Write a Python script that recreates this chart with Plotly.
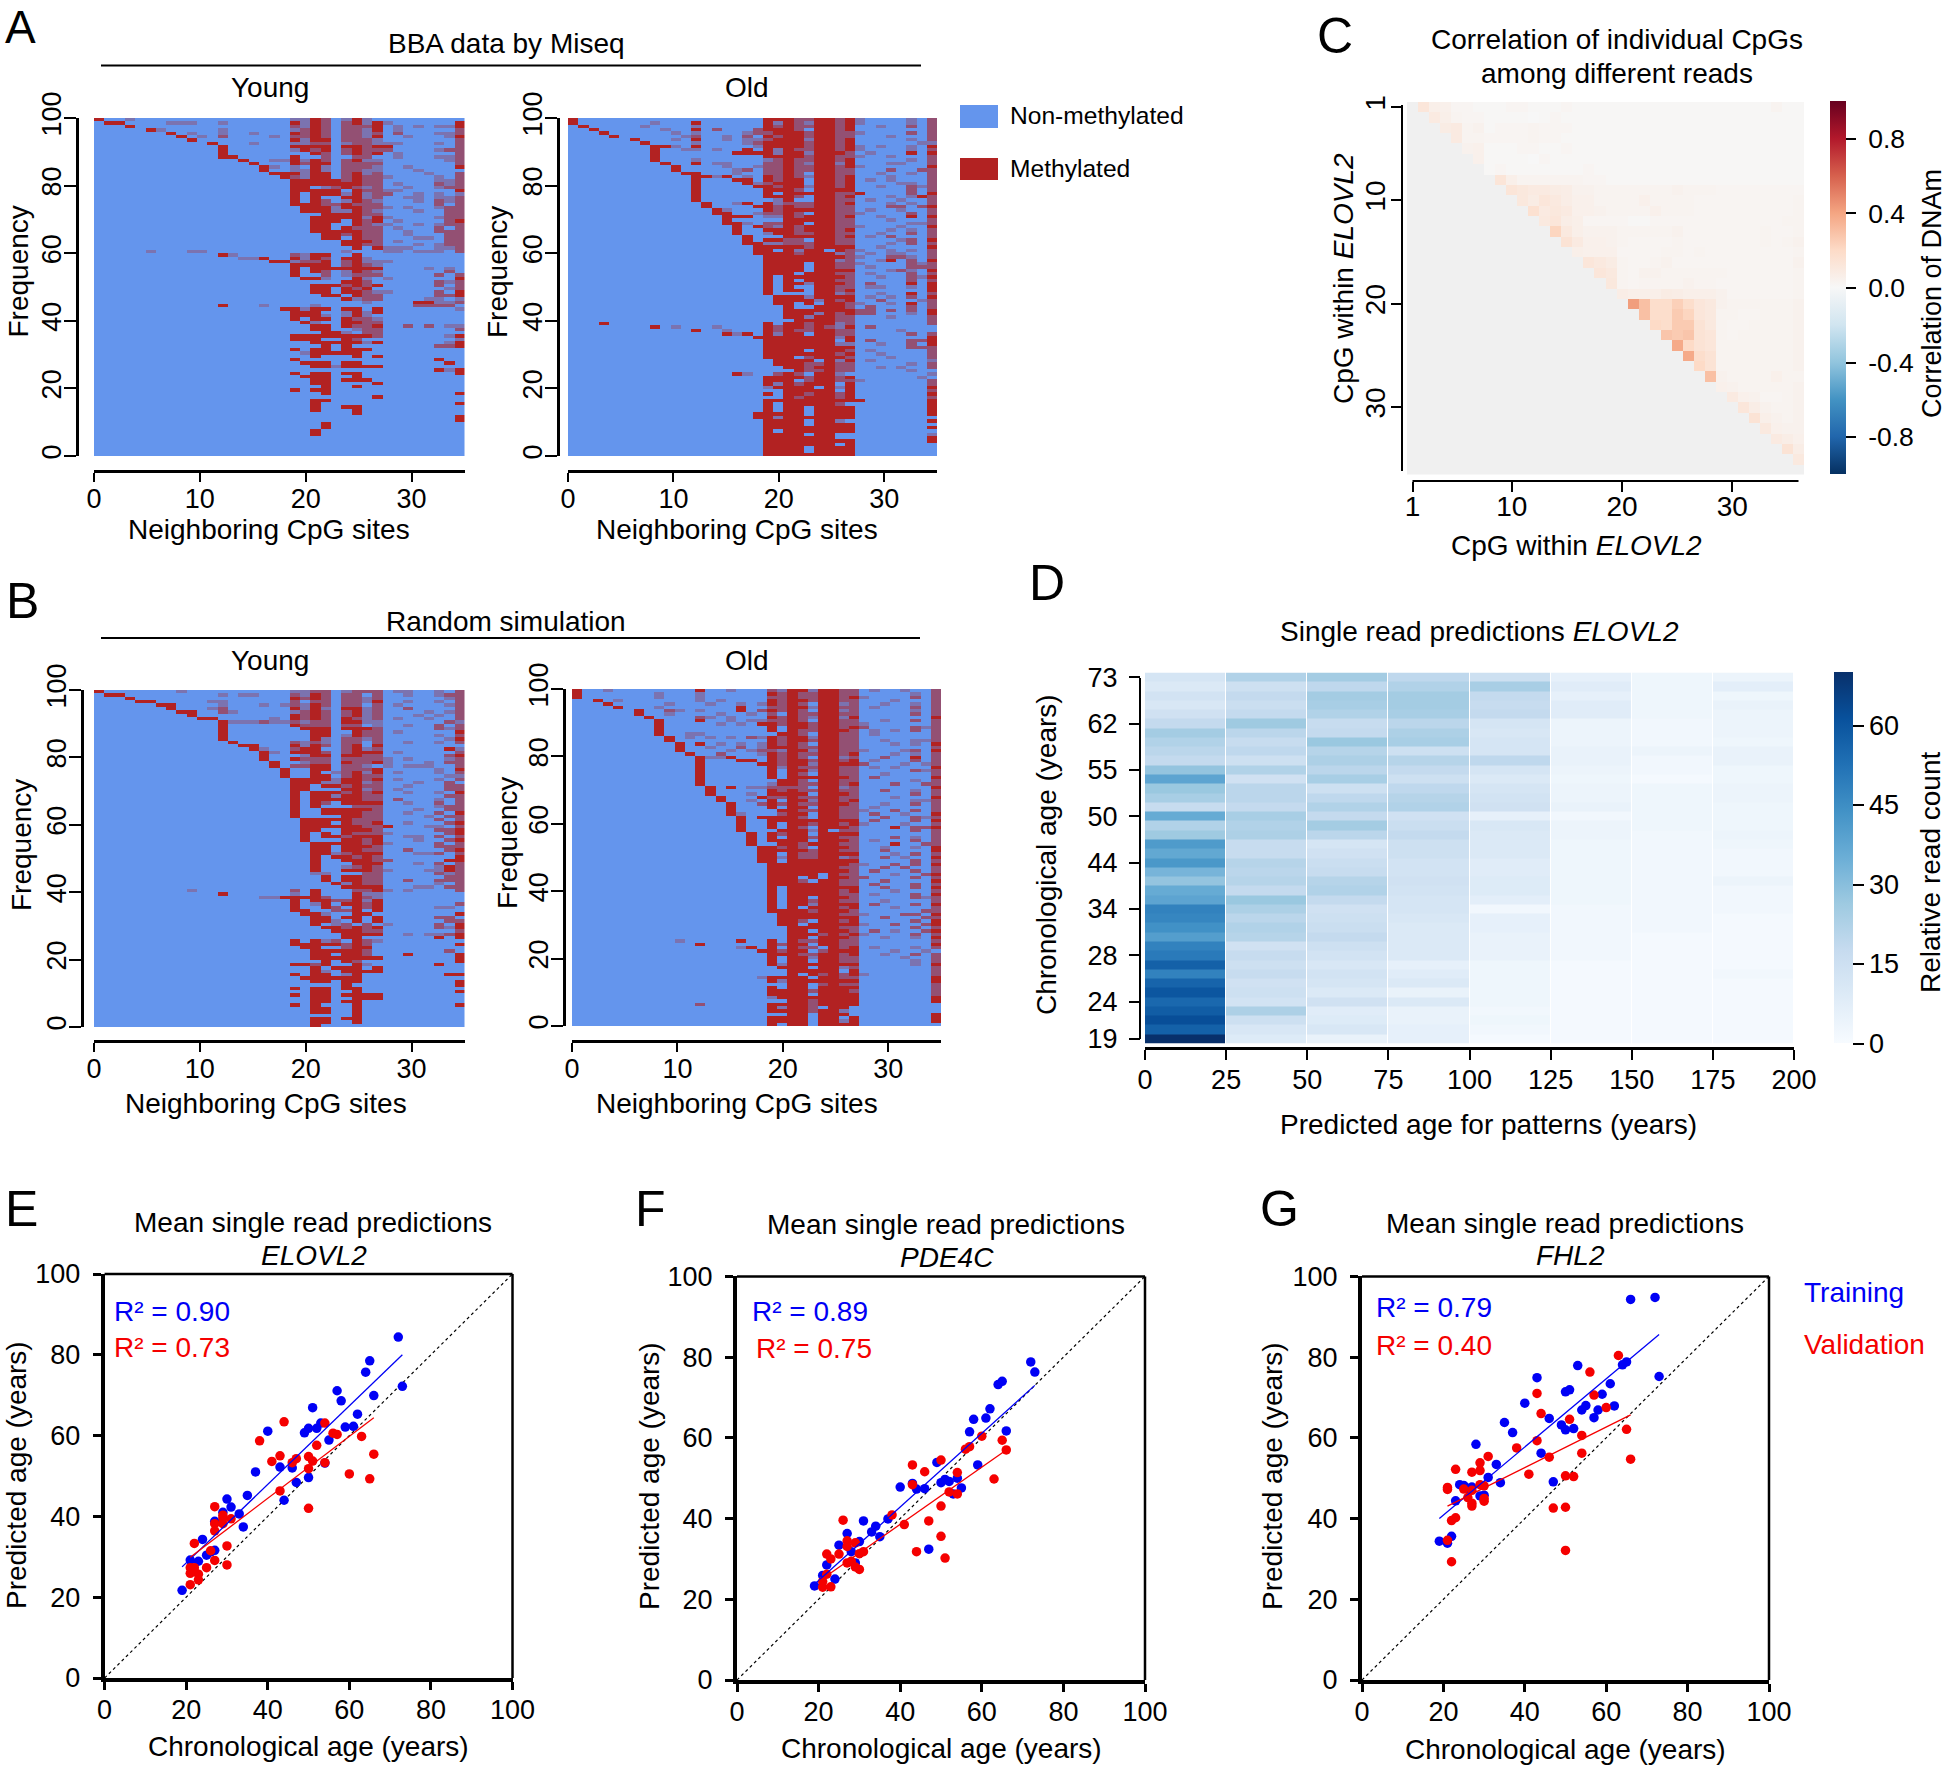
import plotly.graph_objects as go

W, H = 1946, 1766
FONT = "Liberation Sans"
BLUE_M, RED_M = "#6495ED", "#B22222"

# ---------- Panels A/B: methylation patterns, top row first. "19:22x" = columns 19..22, x full, + mixed, - faint
A_YOUNG = [
"0x 3- 19- 20- 21x 22+ 24- 25x 26-","1x 2x 7- 8- 9- 12- 19x 20- 21x 22+ 24+ 25x 26- 27x 28- 35x","3x 19+ 20- 21x 22+ 24+ 25+ 26+ 27x 29- 31- 33- 34- 35x",
"5x 6- 12- 19- 20+ 21x 22+ 24+ 25+ 26- 27x 29- 35+","7x 9- 12- 15- 19x 20+ 21x 22+ 24+ 25+ 26- 27+ 29+ 33- 34- 35+","8x 10- 12+ 17- 19+ 20+ 21x 22+ 24+ 25+ 26- 27x 30- 34- 35x",
"9x 19x 20- 21x 22x 24+ 25+ 26+ 27- 35+","11x 15- 19- 20- 21+ 22+ 24- 25+ 26+ 27- 28- 29- 33- 35+","12x 19x 20x 21x 22x 24x 25x 26+ 27x 28x 35+",
"12x 19- 20x 21+ 22x 24+ 25x 26+ 27+ 28+ 33- 34+ 35+","12x 21x 22+ 24+ 25x 26+ 27x 29- 35+","12x 13x 19x 22+ 25+ 26+ 29- 33- 34- 35+",
"14x 17- 18- 19x 20- 21x 22+ 24+ 25x 26- 27- 34- 35+","15x 19x 20+ 21x 22x 24+ 25+ 26+ 27+ 35+","16x 17- 19- 21x 22- 24+ 25+ 26+ 27- 30- 35x",
"16x 19- 20- 21x 22- 24+ 25+ 26- 27- 31-","17x 18x 19x 20- 21x 22x 24+ 25x 26- 27+ 32- 35+","18x 19+ 20- 21x 22x 24+ 25x 26+ 27+ 28- 33- 35+",
"19x 20x 21x 22x 23x 24+ 25x 26+ 27+ 33- 34- 35+","19x 20x 21x 22x 23x 24x 25x 26+ 27+ 29- 33+ 34- 35+","19x 20x 22- 23+ 24x 25+ 26- 27+ 30- 33- 34+ 35+",
"19x 20x 21x 22x 23x 25x 26+ 27+ 28- 29- 35x","19x 21x 22x 23x 24- 25x 26- 27+ 28+ 31- 33- 35-","19x 21x 24x 25x 26- 27+ 30- 31- 33- 34- 35+",
"19x 21x 22+ 24- 25x 26+ 27- 31- 33+ 34- 35+","19x 20x 21x 22+ 23+ 24x 25+ 26+ 27+ 33+ 35+","20x 21x 22x 23- 24x 25x 26+ 27+ 28- 30- 33- 34+ 35+",
"20x 21x 22x 23- 24- 25x 26+ 27- 31- 34+ 35+","22x 23x 24x 25x 26+ 27+ 34+ 35+","21x 22x 23x 24x 25x 26- 27x 28- 33- 34+ 35+",
"21x 22x 23x 25x 26+ 27x 29- 34+ 35x","21x 22x 25x 26+ 27- 28- 31- 33- 34+ 35+","21x 22x 24x 25+ 26+ 27+ 29- 33+ 35+",
"21x 22x 23x 24x 25x 26+ 27+ 30- 33+ 34+ 35+","22x 23x 24+ 25x 26+ 27+ 30- 34+ 35+","22x 23x 25x 26+ 27+ 31- 32- 34+ 35+",
"24x 25x 26x 27+ 29- 34+ 35+","24x 25x 26+ 27+ 31- 33- 34+ 35+","25x 27x 28- 29- 30- 33- 34- 35+",
"5- 9- 10- 24- 28- 29- 31- 32- 33- 35+","12x 13- 19+ 20- 21x 22x 25x","14- 15- 16x 19x 20- 21x 22+ 24x 25x 26-",
"17x 18x 19- 20+ 21+ 22x 24+ 25x 26- 27- 28-","19x 20x 21x 22x 24+ 25x 26+ 27-","19x 21x 22x 23x 24x 25x 26x 27x 32- 34-",
"19x 21x 22+ 24- 25x 26+ 27- 34+","19x 22+ 24- 25+ 26+ 27+ 33+ 35+","20x 21x 22- 25x 26- 28- 35x",
"24x 25x 26+ 33+ 34- 35+","21x 22x 23x 24+ 25x 26+ 27x 33+ 35+","21x 22x 24x 25+ 26x 34- 35+",
"21x 22x 24x 25x 26+ 27- 28- 33+ 35x","22x 23x 25x 26+ 27+ 33+ 34+ 35x","24x 25- 26+ 27+ 32- 33- 35-",
"26- 31x 32x 33- 34- 35+","12x 16- 21- 31+ 32+ 33+ 34+","18x 19x 20- 21x 22x 24x 25x 27x 35-",
"19x 20x 21x 24- 25x 26- 27x","19x 20x 21x 22- 24- 25x 26-","19x 21x 22x 24x 25+ 26+ 27-",
"20x 21- 24x 25x 26+ 27+","21x 22x 24x 25+ 26+ 27x 30+ 32+ 34- 35-","21x 22x 25- 26+ 27+ 35+",
"22x 23x 24- 26+ 27+","19x 20x 21x 22x 23x 24x 25x 26x 27+ 34- 35x","19x 20x 21x 24x 25+ 35-",
"21x 22x 23x 24x 25x 26- 27x 34- 35x","22x 24x 33+ 34+ 35x","19x 21x 22x 24x 25x 26x",
"20- 21x 22x 23x 24x 25x","21x 25x 27x","19x 33x",
"20x 21x 22x 24x 25x 34x","21x 22x 23- 24x 25x 26x 27x","33x 34- 35x",
"19x 21x 22x 24x 25x 35x","20x 21x 22x 25x","21x 22x 24x 25x 26x",
"21x 22x 27x","22x 25x","19x 21x 22x",
"22x 35x","27x","21x 22x",
"21x 35x","21x 24x 25x","21x 25x",
"25x","35x","35x",
"22x","22x","21x",
"21x","","","","","","",
]
A_OLD = [
"0x 19:21x 22+ 23+ 24:25x 26+ 27x 28- 33- 35+","0x 8- 12x 19x 20- 21x 22+ 23- 24:25x 26+ 27x 28- 33- 35+","1x 7- 12- 19x 20+ 21x 22+ 23+ 24:25x 26+ 27x 30- 33+ 35+",
"2x 9- 12x 14+ 18+ 19:21x 22+ 24:25x 26+ 27x 35+","3x 10- 12- 17- 18+ 19+ 20x 21x 22x 23+ 24:25x 26+ 27+ 28- 33+ 35+","4x 11- 12+ 15- 17+ 19x 20+ 21x 22x 23+ 24:25x 26+ 27+ 31- 35+",
"6x 10- 12x 15- 17- 18- 19+ 20x 21x 22x 23- 24:25x 26+ 27x 33- 35+","7x 12- 17- 18+ 19:22x 23+ 24:25x 26+ 27x 34- 35-","8x 9x 10- 12x 18- 19:22x 23+ 24:25x 26+ 27x 28- 30- 33- 35x",
"8x 11- 12- 14- 17x 19x 20- 21x 22+ 23+ 24:25x 26+ 27x 28- 33- 35+","8x 16:19x 20- 21x 22x 23- 24:26x 27+ 29- 33x 35x","8x 19:22x 23+ 24:25x 26+ 27+ 28- 31- 35+",
"8x 12- 19- 20+ 21x 22+ 23+ 24:25x 26+ 27x 33- 35+","9x 12x 14- 15- 19+ 20+ 21x 22+ 23- 24:25x 26- 27x 31- 32- 35+","10x 15- 18- 19+ 20+ 21x 22+ 23+ 24:25x 26+ 27x 28- 35x",
"10x 16- 17+ 19+ 20+ 21x 22+ 23+ 24:25x 26+ 27+ 31+ 34+ 35+","11x 12x 16- 19+ 20+ 21x 22+ 24:25x 26+ 27+ 30- 33- 35+","12x 13x 14- 15x 17- 19x 20+ 21x 22+ 23- 24:25x 26+ 27x 31- 35+",
"12x 16x 17x 19x 20+ 21x 22x 24:25x 26+ 27x 29- 31- 35+","12x 17x 18- 19+ 20x 21x 22x 24:25x 26+ 27x 32- 33- 35+","12x 18x 19x 20+ 21x 22x 23- 24:25x 26+ 27x 30- 33+ 34- 35+",
"12x 19:21x 22+ 24:25x 26x 27x 33+ 35+","12x 19x 21x 22x 23x 24:25x 26+ 27+ 28x 33+ 35x","12x 19:21x 22+ 24:25x 26+ 27x 31- 33- 34x 35+",
"12x 20- 21x 24:25x 26+ 27+ 29- 32- 35+","13x 16- 17x 19x 20- 21+ 22+ 23+ 24:25x 26+ 27x 31- 33- 35+","13x 18x 19x 20+ 21x 22+ 23+ 24:25x 26+ 27+ 31+ 32+ 34+ 35x",
"14x 15- 19x 20+ 21x 22x 23x 24:25x 26+ 27+ 29- 32- 35+","14x 15x 18- 19+ 20+ 21x 22+ 24:25x 26+ 27+ 28- 33+ 35+","15x 16x 17x 19- 20- 21x 22+ 23x 24:25x 26+ 27x 30- 33x 35x",
"15x 21x 22x 23x 24:25x 26+ 27+ 31- 35+","15x 16x 17- 19+ 20+ 21x 22x 24:25x 26+ 27+ 33- 34- 35+","16x 18x 19+ 20- 21x 22+ 23x 24:25x 26+ 27+ 28- 32- 35x",
"16x 19:21x 22+ 23x 24:25x 26+ 27x 31- 33- 35+","16x 19- 20x 21x 22+ 23+ 24:25x 26+ 27+ 30- 33+ 35+","17x 21x 22x 23x 24:25x 26+ 27x 29- 31+ 35+",
"17x 19x 20x 21+ 22+ 24:25x 26+ 27+ 32- 33+ 35x","17x 18x 19- 20- 21+ 22+ 23+ 24:25x 26+ 27+ 31- 33+ 35+","18:22x 23+ 24:27x 30- 35x",
"18x 19x 21x 22- 23x 24x 26x 27+ 28- 31- 33- 35+","18:21x 22+ 23:25x 26- 27+ 29- 31- 32- 35+","19:26x 27+ 28- 31+ 32+ 33- 35+",
"19:25x 26- 27+ 30- 31x 33+ 35x","19:22x 24:25x 26+ 27+ 28- 33+ 34- 35+","19:22x 24:25x 26+ 27+ 29- 33+ 34+ 35+",
"19:22x 24:27x 31- 32+ 33- 35x","19:21x 23x 24:25x 26+ 27+ 29- 33+ 35+","19x 21x 22x 23x 24:26x 27+ 30- 33+ 34- 35x",
"19x 21x 23x 24:25x 26+ 27+ 33+ 35+","19x 21:22x 23- 24:26x 27+ 29+ 33x 35x","19x 21x 24:25x 26+ 27+ 29- 30- 33- 35x",
"19x 21x 22x 24:25x 26+ 27x 35x","19x 24:25x 26- 27+ 30- 33x 35+","20:22x 23- 24:27x 29- 31- 33+ 35x",
"20:23x 24- 25x 26+ 27x 30+ 34- 35+","20x 21x 23x 25x 26x 27+ 28- 31- 33x 35+","21x 24:26x 27+ 29+ 33+ 35+",
"21:27x 28+ 29+ 31+ 33+ 35x","21:23x 24- 25x 26+ 27x 28+ 29+ 33- 35x","21x 22x 23- 24:25x 26+ 27+ 31- 35+",
"22:25x 26+ 27+ 35+","3x 19x 21:22x 23+ 24:25x 26- 27+ 35+","8x 10- 14- 19x 20+ 21x 22x 23+ 24x 25+ 26- 27x 29+",
"12x 15- 19x 20+ 21x 22+ 23+ 24:25x 26+ 27+ 32-","15x 16- 17x 19x 20- 21x 22x 24:25x 26+ 27+ 33+ 35+","18:25x 26- 27x 35x",
"19:25x 27x 29+ 33+ 34+ 35x","19:25x 26- 27- 30- 33+ 35x","19:27x 33+ 34+ 35+",
"19:22x 24:26x 27+ 29- 35+","19:25x 26+ 27x 30- 35+","19:21x 23+ 24:26x 27+ 31- 35+",
"20:23x 25x 26- 27x 29- 35-","20:22x 23+ 24+ 25x 26+ 27+ 33- 35+","21:22x 23+ 24:25x 26+ 27+ 30- 32- 35+",
"22x 23+ 24+ 25x 26+ 27+ 33-","16x 17- 20+ 21x 22+ 24:25x 26- 35-","19:22x 23+ 24:25x 26+ 27x 34-",
"19:21x 23+ 24:25x 26+ 27+ 28- 35+","19x 20- 21x 22+ 23:25x 27x 35+","19- 20:23x 25x 26- 27x 35x",
"21:25x 27x 35+","19x 21x 22x 23+ 24:25x 26+ 27x 35x","21x 22+ 23:25x 26+ 27x 35+",
"19:28x 35x","19x 21:25x 26+ 35x","19x 21x 22x 24:27x 35x",
"19x 21x 22x 24:27x 35x","18:22x 24:27x 35x","18x 19x 20- 21:27x",
"19:22x 24:25x 26- 35x","19:22x 24:27x","19:27x 35x",
"19x 21:27x","19:22x 24:25x 35-","19:25x 35x",
"19:27x 35x","19:25x 27x","19:22x 24:27x","19:22x 24:27x","19:27x",
]
B_YOUNG = [
"0x 8- 19- 20- 21+ 22+ 24- 25+ 26+ 27+ 29- 30- 33- 35+","1x 2x 12- 14- 15- 19+ 20- 21x 22+ 24+ 25+ 27+ 30- 33- 34+ 35+","3x 19x 20+ 21x 22+ 24+ 25+ 26- 27+ 34- 35+",
"4x 5x 11- 12- 19+ 21+ 22+ 24+ 25+ 26- 27x 30- 33- 35+","6x 7x 12- 16- 18- 19+ 20- 21x 22+ 24+ 25+ 27+ 29- 34- 35+","7x 11- 12+ 19x 20- 21x 22- 24x 25x 26- 27+ 30+ 35+",
"8x 9x 12+ 13- 19- 20+ 21x 22+ 24+ 25x 26- 27+ 32- 34- 35+","9x 19x 20+ 21x 22+ 24+ 25x 26- 27+ 31- 33- 35+","10x 11x 17- 19x 20+ 21x 22+ 24x 25+ 26- 27+ 29- 32- 35+",
"12x 13- 14- 15- 16+ 17- 18- 19+ 20- 21+ 22+ 24x 25x 26- 27- 34+ 35-","12x 19x 20+ 21+ 22+ 24+ 25+ 27- 30- 33+ 35+","12x 20x 21x 22x 24x 25x 26x 27+ 33+ 34- 35+",
"12x 21x 22x 25x 26+ 27+ 29- 35x","12x 21x 22x 24- 25x 26+ 27+ 33- 35+","12x 21x 22- 24+ 25+ 26- 27+ 34- 35x",
"13x 19+ 20- 21+ 22- 24+ 25+ 27+ 30- 33- 35+","14x 15x 19x 20- 21x 22+ 24+ 25x 27x","15x 16- 19+ 20x 21x 24+ 25x 26- 27+ 34x 35-",
"16x 17- 19x 20x 21x 22+ 24+ 25x 26x 27x 29- 35+","16x 20- 21x 22x 24x 25x 26+ 27+ 34+ 35x","16x 19x 20+ 21+ 22+ 24+ 25+ 26+ 27+ 28- 30- 34- 35+",
"17x 20- 21+ 22+ 24x 25+ 26+ 27x 28- 32- 34+ 35+","17x 19+ 20+ 21x 22x 24+ 25+ 26- 28- 30- 31- 32- 35+","18x 21x 22x 24+ 25+ 26+ 27x 33- 35x",
"18x 21x 23- 24+ 25x 26- 27x 29- 33- 35+","18x 21x 22x 24+ 25x 26+ 27+ 34- 35-","19x 20x 21x 22x 23- 24x 25x 26+ 27x 29- 33- 35+",
"19x 20x 21x 22- 23- 24x 25x 26- 27+ 31- 34+","19x 20x 22x 23x 24+ 25x 26+ 27+ 30- 34+ 35+","19x 20x 24x 25x 26- 27+ 29- 34+ 35+",
"19x 21x 22x 23x 24+ 25x 26+ 27x 30- 33- 35x","19x 21x 22x 23- 24x 25x 26+ 27+ 34+ 35+","19x 21x 22x 23x 24x 25x 26+ 27+ 29+ 33- 35+",
"19x 21x 22+ 24x 25x 26x 27x 30- 33+ 35+","19x 21x 25+ 26+ 27+ 33- 34+ 35+","19x 22x 23x 24x 25x 26x 27+ 31- 34+ 35+",
"19x 22x 23x 24x 25x 26+ 27+ 30- 33+ 35x","19x 24x 25x 26+ 27+ 32- 34+ 35+","20x 21x 22x 23x 24x 25+ 26+ 27+ 33+ 35+",
"20x 21x 22x 24x 25+ 26+ 27x 30- 34+ 35x","20x 21x 22x 23x 24x 25x 26+ 27+ 28x 32- 33- 35+","20x 21x 24x 25x 26x 27+ 33+ 34+ 35x",
"20x 22x 24x 25+ 26+ 27+ 28- 34+ 35x","20x 22x 23x 24+ 25x 26x 27x 30- 31- 33+ 35+","20x 24x 25x 26+ 27x 31- 34+ 35x",
"21x 22x 23x 24x 25x 26+ 27x 28- 33+ 35+","21x 22x 24x 25x 26x 27+ 33+ 34+ 35+","21x 22x 24x 25x 26+ 27+ 30+ 34+ 35x",
"21x 22x 23- 24+ 25x 26x 27x 31- 32- 33+ 35+","21x 23x 24x 25+ 26x 27+ 35x","21x 24x 25x 26x 27+ 28+ 34x 35x",
"21x 25x 26x 27x 31- 33+ 35+","21x 24- 25+ 26x 27+ 33- 34x 35+","21x 24x 25x 26x 27+ 28- 32- 33- 34x 35+",
"21- 22- 26+ 27+ 33+ 34- 35+","22x 24x 25x 26+ 27+ 34+ 35+","22x 24x 25x 26+ 27+ 30+ 33+ 34+ 35+",
"23x 24- 25x 26+ 27+ 33- 35+","24x 25x 26x 27x 31- 32- 34+ 35+","9- 19+ 21x 25+ 26+ 27x 28- 30- 35+",
"12x 19- 21x 25x 26- 27-","16- 17- 18x 19x 20x 21x 22+ 25x 26+ 27-","19x 21x 22x 23+ 24+ 25x 26- 27x",
"19x 21- 22x 24x 25x 26+ 27x 35+","19x 22x 23+ 25x 26+ 27x 33- 34-","19x 20x 23+ 24+ 25x 27x",
"20x 21x 22- 25x 26x 35x","21x 22x 24x 25x 27x 33+ 34+","21x 22x 23- 25x 27x 34+ 35+",
"21x 23- 24+ 26+ 28- 33+ 35x","22x 23x 24+ 25x 26+ 27x 33+ 34- 35x","23x 24x 25x 26+ 27+ 35+",
"24x 25x 26x 27x 30- 32- 33- 34+ 35x","24x 25x 33x 35x","19x 21x 22- 23+ 25x 26+ 27-",
"19x 20x 21x 22x 23x 24+ 25x 26+ 35x","20x 21x 24+ 25x 26x","21x 22x 23x 24x 25x 26+ 34+",
"21x 22x 24x 25x 26+ 30x 35x","21x 22x 23x 24x 25x 26x 27x 35x","22x 24x 25+ 35x",
"19x 20x 21+ 22x 25x 26- 33x","21x 23x 24x 25x 27x","21x 22- 24x 25x 26x 27x",
"19x 21x 22x 24- 25x 34x 35x","20x 21x 22x 23x 24x 25x","21x 22x 24x 25x 35x",
"24x 35x","19x 21x 22x 24x 25x","21x 22x 25x 35x",
"19x 21x 22x 24x 25x 26x 27x","21x 22x 25x 26x 27x","21x 22x 24x 25x",
"19x 21x 25x 35x","21:22x 25x","21x 22x 25x",
"25x","21x 22x 24x 25x","21x 22x 25x","21x",
]
B_OLD = [
"0x 3- 12x 15- 19+ 20- 21x 22x 23- 24:25x 26+ 27+ 29- 32- 35+","0x 8- 12- 19x 20+ 21x 22+ 23+ 24:25x 26+ 27+ 33- 35+","0x 8- 12- 19+ 20+ 21x 22+ 23+ 24:25x 26+ 27x 28- 33+ 35+",
"2x 4- 12- 14- 19x 20+ 21x 22x 23+ 24:25x 26+ 27+ 31- 35+","3x 9- 13- 16- 18- 19x 20+ 21x 22+ 24:25x 26- 27+ 30- 33- 35+","4x 8- 16x 19+ 20+ 21x 22x 23- 24:25x 26+ 27+ 29- 33+ 35+",
"6x 9+ 10- 12- 16x 18+ 19x 20+ 21x 22+ 24:25x 26- 27+ 33- 35+","6x 9- 14- 17- 19+ 21x 22+ 23+ 24:25x 26+ 27+ 33+ 35+","7x 12+ 13- 15- 19x 20+ 21x 22+ 23- 24:25x 26- 27x 35x",
"8x 12x 15- 17- 18- 19+ 20+ 21x 22+ 24:25x 26+ 27+ 30- 33+ 35+","8x 14- 16- 18x 19x 20+ 21x 22x 23+ 24:25x 26+ 27+ 28- 35+","8x 19x 21x 22x 23+ 24:25x 26+ 27x 28+ 33+ 34- 35+",
"8x 19x 21x 22+ 23+ 24:26x 27+ 29- 31- 33+ 35+","8x 11- 12- 20x 21x 22+ 24:25x 26+ 27+ 29- 35+","9x 11- 13- 15- 17+ 18- 19x 20+ 21x 22x 23- 24:25x 26+ 27+ 35+",
"9x 19x 20+ 21x 22x 23+ 24:25x 26+ 27+ 30- 33- 34- 35+","10x 12x 14- 16- 18- 19x 20+ 21x 22+ 24:25x 26+ 27+ 31- 33- 35x","10x 13- 16+ 18- 19:21x 22+ 23+ 24:25x 26+ 27+ 35+",
"10x 15- 17- 18+ 19+ 20- 21x 22x 23- 24:25x 26+ 27+ 28- 32- 33+ 35x","11x 14+ 18- 19x 20+ 21x 22+ 23+ 24:25x 26+ 27x 31- 33- 35+","12x 13- 14- 15x 19x 20+ 21x 22+ 24:25x 26- 27+ 30+ 33x 35+",
"12x 16x 17x 19x 20+ 21x 22x 23+ 24:25x 26+ 27x 29- 33+ 35+","12x 18x 19x 20+ 21x 22x 23- 24:27x 28+ 32- 34- 35+","12x 19x 20- 21x 22+ 23+ 24:25x 26+ 27+ 29- 31- 35x",
"12x 19x 21x 22x 23- 24:25x 26+ 27+ 33+ 34- 35+","12x 19x 21x 22+ 24:25x 26+ 27+ 30- 35+","12x 19x 21:26x 27+ 29+ 35x",
"12x 20x 21x 22+ 24:25x 26+ 27+ 33- 35+","12x 19- 20x 21x 22+ 23+ 24:25x 26+ 27x 31+ 34+ 35+","13x 15x 17- 18- 19+ 20+ 21+ 22+ 24:25x 26- 27+ 35x",
"13x 19x 20+ 21x 22+ 23+ 24:25x 26+ 27+ 30+ 33- 35+","13x 17- 19:22x 24:26x 27+ 33+ 35+","14x 18x 19+ 20+ 21x 22+ 23+ 24:25x 26+ 27+ 31- 35x",
"14x 17- 19x 21x 22x 23- 24:25x 26+ 27x 33- 34- 35+","15x 18+ 19x 20+ 21x 22+ 23+ 24:26x 27+ 30- 33+ 35+","15x 19x 21x 22x 24:25x 26+ 27+ 29- 35+",
"15x 20x 21x 22+ 23+ 24:25x 26+ 27+ 28- 31+ 33+ 35+","15x 16- 20+ 21x 22x 24:25x 26+ 27+ 29+ 32- 35x","16x 18:21x 22+ 24:25x 26+ 27+ 30+ 33+ 34- 35+",
"16x 19:27x 29+ 33+ 35x","16x 19x 21x 22x 23+ 24:25x 26+ 27x 28- 32- 35+","16x 19x 21x 22+ 24:26x 27+ 31x 33+ 34+ 35x",
"16x 20x 21x 22x 23- 24x 26+ 27+ 33+ 35+","17x 19x 20+ 21x 22x 24:27x 35+","17x 19x 21x 22x 23+ 24:25x 26+ 27+ 31+ 33- 35+",
"17x 19:22x 24:26x 27+ 29- 33+ 35+","17x 20x 21x 22+ 23x 24:25x 26+ 27+ 31x 34+ 35+","18x 19x 20+ 21x 22+ 24:26x 27+ 30- 33- 35x",
"18:22x 23+ 24:25x 26+ 27+ 30+ 35x","18x 19x 21x 22+ 23+ 24:27x 31- 33+ 35+","18x 19x 20- 21x 22+ 23+ 24:25x 26- 27+ 30+ 32- 35x",
"18x 19x 21:27x 33+ 35+","19:26x 27+ 28- 31+ 33+ 35x","19:25x 26+ 27+ 30+ 32+ 35+",
"19:26x 27+ 29+ 33+ 35+","19:23x 25x 26+ 27+ 31- 34+ 35x","19:21x 23x 25x 26x 27+ 28+ 33+ 35+",
"19:21x 22+ 24:25x 26+ 27+ 30+ 35x","19:25x 26+ 27+ 29+ 33+ 35+","19x 21:27x 30+ 33+ 35x",
"19x 21:25x 26+ 27x 31- 35+","19x 21:25x 26+ 27+ 29- 33+ 35x","19x 21x 22x 24:26x 27+ 33+ 34- 35+",
"19x 21x 22x 23+ 24:25x 26+ 27+ 30- 35+","19x 21x 22x 23- 24:27x 29+ 33+ 35x","19x 21x 23x 24:25x 26+ 27x 31- 35+",
"19:22x 23+ 24:26x 27+ 34+ 35+","20:25x 26+ 27+ 28- 32+ 33+ 35x","20:27x 30+ 34+ 35+",
"20:21x 22+ 24:25x 26+ 27x 33+ 35x","20:21x 23x 24:27x 28- 31+ 34+ 35x","21:25x 26+ 27+ 33+ 35+",
"21:22x 24:26x 27+ 29+ 31- 34+ 35x","21x 22x 23x 24+ 25x 26+ 27x 28- 33+ 35+","21x 22x 24:26x 27+ 30- 33- 35x",
"10- 16x 19x 21x 22+ 23+ 24:25x 26+ 27+ 35+","12x 19x 20+ 21x 22x 24:25x 26+ 27+ 35x","16- 17x 19x 21x 22+ 23+ 25x 26+ 27x 29- 33- 35+",
"18x 19x 20+ 21x 22x 24+ 25x 26x 27x 31- 34-","19:21x 22+ 23+ 24:25x 26+ 27x 30- 33+ 35+","19x 21x 22x 23- 24:25x 26+ 27+ 32- 35+",
"19x 21x 22x 24:25x 26+ 27+ 33- 35+","19x 20- 21:27x 33- 35x","20x 21x 22x 24:25x 26- 27+ 35+",
"21:25x 27x 35+","21x 23x 24+ 25x 26+ 27x 28- 35+","18- 19:22x 24:25x 26+ 27+ 35x",
"19x 20- 21:27x 35x","21:22x 24+ 25x 26+ 27+ 35+","19x 21:22x 24:27x 35+",
"19:22x 23+ 24:26x 27+ 35+","19:22x 24:27x 35+","19- 20:27x 35x",
"21:22x 23+ 24:27x 35x","12+ 19:22x 23+ 24:27x","19x 20- 21x 22x 23+ 25x 26x",
"19:22x 23+ 24:25x 26-","21:22x 24:26x 35x","19:22x 24x 25x 27x 35x",
"19:22x 24:25x 26- 27x 35x","19x 21:22x 24:27x",
]

# ---------- Panel C: correlation x100, row by row from the first cell right of the diagonal
CORR_ROWS = [
[12,6,5,2,2,1,1,1,2,2,1,1,1,2,1,1,1,1,1,1,1,1,1,1,1,1,1,1,1,1,1,1,3,1,1],
[9,6,3,2,2,1,1,1,1,0,1,2,1,1,1,1,1,1,1,1,1,1,1,1,1,1,1,1,1,1,1,1,1,1],
[8,9,3,4,1,2,2,2,3,2,2,2,1,1,1,1,1,1,1,1,1,1,1,1,1,1,1,1,1,1,1,1,1],
[9,3,3,2,2,2,2,3,2,2,1,1,1,1,1,1,1,1,1,1,1,1,1,1,1,1,1,1,1,1,1,1],
[4,5,1,1,1,2,2,1,1,2,1,1,1,1,1,1,1,1,1,1,1,1,1,1,1,1,1,1,1,1,1],
[5,1,1,1,1,0,2,1,1,1,1,1,1,1,1,1,1,1,1,1,1,1,1,1,1,1,1,1,1,1],
[1,2,1,1,1,1,1,1,1,2,1,1,1,1,1,1,1,1,1,1,1,1,1,1,1,1,1,1,1],
[13,6,3,3,3,3,3,3,2,2,1,1,1,1,1,1,1,1,1,1,1,1,1,1,1,1,1,1],
[13,11,9,9,8,7,4,4,3,3,3,3,3,3,3,4,3,3,3,2,2,2,2,2,2,2,2],
[11,8,12,10,7,5,5,3,3,3,3,5,3,3,3,3,2,2,2,2,2,2,2,2,2,3],
[16,9,11,9,5,5,4,3,3,3,3,5,3,3,3,2,2,2,2,2,2,2,2,2,3],
[10,12,7,6,2,2,2,2,1,1,2,2,2,2,2,2,2,2,2,2,2,2,3,3],
[22,10,6,4,4,4,3,3,3,3,3,4,2,2,2,2,2,2,2,3,2,2,3],
[14,9,5,5,4,3,2,2,2,2,3,2,2,2,2,2,2,2,3,2,3,4],
[6,5,5,5,2,2,2,2,3,3,2,3,2,2,2,2,2,2,2,2,3],
[12,10,8,3,2,2,3,4,2,2,2,2,2,2,2,2,2,2,2,4],
[12,10,3,2,4,4,3,3,3,3,3,3,2,2,2,2,2,2,3],
[11,3,2,3,3,3,3,4,3,3,2,2,2,2,2,2,2,3],
[7,6,6,6,8,7,6,6,6,4,2,2,2,2,2,2,3],
[42,30,18,18,24,18,12,10,4,3,3,3,3,3,3,4],
[30,18,18,26,22,12,10,3,3,2,2,3,3,3,4],
[20,18,26,26,14,10,3,2,2,3,3,3,3,4],
[28,26,28,14,12,3,2,3,3,3,3,3,4],
[38,20,14,12,3,3,3,3,3,3,3,4],
[38,18,14,3,3,3,3,3,3,3,4],
[20,14,3,3,3,3,3,3,3,4],
[30,4,3,3,3,3,5,3,3],
[5,4,3,3,3,3,3,4],
[9,5,4,2,2,3,4],
[12,7,4,3,3,4],
[14,6,4,3,4],
[10,5,4,4],
[9,7,5],
[14,7],
[10],
]
CORR_TICKS = [1, 10, 20, 30]
CORR_CB_TICKS = [-0.8, -0.4, 0.0, 0.4, 0.8]
CORR_CB_LABELS = ["\u00a0-0.8", "\u00a0-0.4", "\u00a00.0", "\u00a00.4", "\u00a00.8"]

# ---------- Panel D: read counts, youngest sample (age 19) first, eight 25-year bins
AGE_BIN_TICKS = [0, 25, 50, 75, 100, 125, 150, 175, 200]
AGE_ROW_TICKS = [0, 4, 9, 14, 19, 24, 29, 34, 39]
AGE_ROW_LABELS = ["19", "24", "28", "34", "44", "50", "55", "62", "73"]
READ_COUNTS = [
[70,9,5,6,1,1,1,1],[57,11,11,6,2,1,1,1],[62,15,9,5,3,1,1,1],[58,23,8,5,2,1,1,1],[55,13,14,10,3,1,1,1],
[60,15,10,5,3,1,1,1],[56,14,12,10,3,1,1,1],[48,17,13,8,3,1,1,2],[57,15,11,6,3,1,1,1],[50,17,13,10,5,2,1,1],
[48,14,15,10,5,2,1,1],[40,21,18,10,5,2,1,1],[44,22,16,10,6,2,2,1],[47,20,15,11,6,2,2,1],[48,23,14,12,2,2,2,2],
[38,27,18,12,7,3,2,2],[36,18,22,13,9,3,2,2],[28,21,21,14,9,3,2,4],[33,20,17,13,8,3,2,2],[42,21,16,13,8,3,2,2],
[37,17,14,15,10,3,2,2],[41,17,12,15,10,3,2,3],[26,23,20,18,10,4,2,4],[22,22,25,16,11,4,3,3],[36,24,18,14,6,2,3,3],
[17,18,22,22,14,5,3,3],[24,20,19,21,13,4,3,4],[27,20,15,19,12,4,3,4],[38,14,24,15,10,3,1,3],[28,22,20,18,12,4,2,3],
[18,15,23,21,19,5,2,5],[20,19,21,15,12,5,4,5],[22,17,27,24,12,4,2,3],[25,20,18,23,11,4,2,4],[18,26,17,20,12,4,2,4],
[14,18,22,24,18,8,3,4],[11,16,24,25,17,8,3,5],[13,18,25,25,18,6,3,3],[10,15,19,22,24,8,3,7],[12,22,25,19,15,6,3,4],
]

# ---------- Panels E, F, G: chronological vs predicted age
E_TRAIN_X = [19,21,23,24,25,26,27,27,29,30,31,33,34,35,37,40,43,44,46,47,49,50,50,51,52,53,54,55,57,58,59,61,62,64,65,66,72,73]
E_TRAIN_Y = [21.7,29.2,28.9,34.3,30.4,31.2,31.6,38.8,41,44.3,42.3,40.6,37.4,45.2,51,61.1,52.2,44,52,48.4,60.7,61.8,49.6,66.9,61.8,63.1,53.2,58.9,71.1,68.6,62.1,62.3,65.3,75.7,78.5,69.9,84.4,72.2]
E_VALID_X = [21,21,21,22,22,22,23,23,25,26,27,27,27,27,29,29,29,30,30,31,38,41,43,43,44,46,47,50,50,50,51,52,54,54,56,57,60,63,65,66]
E_VALID_Y = [23.1,25.9,27.3,33.3,27.3,26.4,24.3,25.7,27.3,31.5,29.1,42.4,38.2,36.4,40.3,39.6,38.2,32.7,28,39.4,58.7,53.6,55,46.3,63.4,53.3,54.3,54.8,51.8,42,53.7,57.6,63.1,53.3,60.6,60.3,50.5,59.8,49.3,55.4]
E_TRAIN_FIT = ([19, 73], [27.5, 80])
E_VALID_FIT = ([21, 66], [29.9, 64.4])

F_TRAIN_X = [19,21,22,24,25,27,28,29,30,31,33,34,35,37,40,43,44,46,47,49,50,51,52,53,54,55,57,58,59,61,62,64,65,66,72,73]
F_TRAIN_Y = [23.3,25.9,28.5,25,33.4,36.3,31.8,29,34.3,39.4,36.7,38.1,35.5,39.9,47.8,48.7,47.3,47.4,32.4,53.9,48.9,49.7,49.2,46.1,50,47.6,61.5,64.6,53.3,64.9,67.2,73.2,74,61.7,78.8,76.3]
F_VALID_X = [21,21,22,22,23,23,25,26,27,27,27,28,29,29,30,30,31,38,41,43,43,44,46,47,50,50,50,51,52,54,54,56,57,60,63,65,66]
F_VALID_Y = [23,24.4,31.2,26.2,30,23.1,31.2,39.6,34.5,33.1,29,29.4,34,28,27.4,31.3,31.8,40.9,38.5,53.3,48.4,31.8,51.6,39.4,54.5,43.1,35.6,30.2,46.6,46.1,51.4,57.2,57.8,60.4,49.8,59.4,57]
F_TRAIN_FIT = ([19, 73], [23.7, 73])
F_VALID_FIT = ([20, 66], [24.4, 57])

G_TRAIN_X = [19,21,22,23,24,25,26,27,28,29,30,31,33,34,35,37,40,43,44,46,47,49,50,50,51,52,53,54,55,57,58,59,61,62,64,65,66,72,73]
G_TRAIN_Y = [34.4,33.9,35.6,44.4,48.4,48.2,47.5,47.8,58.4,45.6,45.8,50.2,53.4,48.9,63.8,61.3,68.6,74.9,56.2,64.8,49.1,63.2,62,71.4,71.9,62.3,77.9,66.9,68,65,66.9,70.8,73.4,67.9,78.1,78.8,94.3,94.8,75.2]
G_VALID_X = [21,21,21,22,22,23,23,25,26,27,27,27,27,29,29,29,30,30,30,31,38,41,43,43,44,46,47,50,50,50,51,52,54,54,56,57,60,63,65,66]
G_VALID_Y = [47.7,47.2,34.6,29.3,39.5,40.2,52.2,47.3,45.2,51.5,47,43.8,43.1,53.8,51.9,48.4,48.1,45,44.3,55.4,57.5,51,59.3,71,66,55.2,42.6,50.6,42.8,32.1,64.6,50.4,60.6,56.2,76.3,70.6,67.5,80.4,62.1,54.7]
G_TRAIN_FIT = ([19, 73], [40, 85.6])
G_VALID_FIT = ([21, 66], [43.1, 65.7])

SCATTER_TICKS = [0, 20, 40, 60, 80, 100]
PATTERN_X_TICKS = [0, 10, 20, 30]
PATTERN_Y_TICKS = [0, 20, 40, 60, 80, 100]


def fx(x):
    return x / W


def fy(y):
    return 1 - y / H


LEVEL = {"x": 1.0, "+": 0.6, "-": 0.3}
N_COL = 36


def decode(rows):
    out = []
    for row in rows:
        cells = [0.0] * N_COL
        for tok in row.split():
            a = tok[:-1].split(":")
            for c in range(int(a[0]), int(a[-1]) + 1):
                cells[c] = LEVEL[tok[-1]]
        out.append(cells)
    return out[::-1]


fig = go.Figure()
annots, shapes = [], []
layout = {}


def text(x, y, s, size=28, color="black", angle=0, anchor="center"):
    annots.append(dict(x=fx(x), y=fy(y), xref="paper", yref="paper", text=s, showarrow=False,
                       font=dict(family=FONT, size=size, color=color), textangle=angle,
                       xanchor=anchor, yanchor="middle"))


def line(x0, y0, x1, y1, w=2):
    shapes.append(dict(type="line", xref="paper", yref="paper", x0=fx(x0), y0=fy(y0), x1=fx(x1), y1=fy(y1),
                       line=dict(color="black", width=w)))


def tfont(size=27):
    return dict(family=FONT, size=size, color="black")


def pattern_panel(n, rows, x0, x1, y0, y1, xline_y, yline_x):
    z = decode(rows)
    s = "" if n == 1 else str(n)
    dy = 100 / len(z)
    dx = 35 / N_COL
    fig.add_trace(go.Heatmap(z=z, x0=dx / 2, dx=dx, y0=dy / 2, dy=dy, zmin=0, zmax=1,
                             colorscale=[[0, BLUE_M], [1, RED_M]], showscale=False,
                             xaxis="x" + s, yaxis="y" + s, hoverinfo="skip"))
    layout["xaxis" + s] = dict(domain=[fx(x0), fx(x1)], range=[0, 35], anchor="free", position=fy(xline_y),
                               tickvals=PATTERN_X_TICKS, showline=True, linecolor="black", linewidth=2.5,
                               ticks="outside", ticklen=9, tickwidth=2, tickcolor="black", tickfont=tfont(),
                               showgrid=False, zeroline=False, ticklabelstandoff=-6)
    layout["yaxis" + s] = dict(domain=[fy(y1), fy(y0)], range=[0, 100], anchor="free", position=fx(yline_x),
                               tickvals=PATTERN_Y_TICKS, showline=True, linecolor="black", linewidth=2.5,
                               ticks="outside", ticklen=12, tickwidth=2, tickcolor="black", tickfont=tfont(),
                               tickangle=-90, showgrid=False, zeroline=False, ticklabelstandoff=-8)


pattern_panel(1, A_YOUNG, 94, 464.5, 118, 456, 471, 77)
pattern_panel(2, A_OLD, 568, 937, 118, 456, 471, 558)
pattern_panel(3, B_YOUNG, 94, 464.5, 690, 1027, 1041, 82)
pattern_panel(4, B_OLD, 572, 941, 689, 1026, 1041, 564)

# Panel C
corr = [[None] * 36 for _ in range(36)]
for i, vals in enumerate(CORR_ROWS):
    for k, v in enumerate(vals):
        corr[i][i + 1 + k] = v / 100
RDBU = ["#053061", "#2166ac", "#4393c3", "#92c5de", "#d1e5f0", "#f7f7f7", "#fddbc7", "#f4a582", "#d6604d", "#b2182b", "#67001f"]
fig.add_trace(go.Heatmap(z=corr, x=list(range(1, 37)), y=list(range(1, 37)), zmin=-1, zmax=1,
                         colorscale=[[i / 10, c] for i, c in enumerate(RDBU)], xaxis="x5", yaxis="y5", hoverinfo="skip",
                         colorbar=dict(x=fx(1829.5), xanchor="left", y=fy(474.5), yanchor="bottom", len=372.5 / H, lenmode="fraction",
                                       thickness=15.5, thicknessmode="pixels", xpad=0, ypad=0, outlinewidth=0,
                                       tickvals=CORR_CB_TICKS, ticktext=CORR_CB_LABELS, ticks="outside", ticklen=10,
                                       tickwidth=2, tickcolor="black", tickfont=tfont(26.5))))
layout["xaxis5"] = dict(domain=[fx(1407), fx(1804)], range=[0.5, 36.5], anchor="free", position=fy(481),
                        tickvals=CORR_TICKS, ticks="outside", ticklen=10, tickwidth=2, tickcolor="black", tickfont=tfont(28),
                        showgrid=False, zeroline=False, showline=False, ticklabelstandoff=-10)
layout["yaxis5"] = dict(domain=[fy(474.5), fy(102)], range=[36.5, 0.5], anchor="free", position=fx(1402),
                        tickvals=CORR_TICKS, ticks="outside", ticklen=11, tickwidth=2, tickcolor="black", tickfont=tfont(28),
                        tickangle=-90, showgrid=False, zeroline=False, showline=False, ticklabelstandoff=-5)
shapes.append(dict(type="rect", xref="paper", yref="paper", x0=fx(1407), x1=fx(1804), y0=fy(474.5), y1=fy(102),
                   fillcolor="#f0f0f0", line=dict(width=0), layer="below"))
line(1412.5, 481, 1798.5, 481)
line(1402, 105, 1402, 471)

# Panel D
BLUES = ["#f7fbff", "#deebf7", "#c6dbef", "#9ecae1", "#6baed6", "#4292c6", "#2171b5", "#08519c", "#08306b"]
fig.add_trace(go.Heatmap(z=READ_COUNTS, x0=12.5, dx=25, y0=0, dy=1, zmin=0, zmax=70, xgap=1,
                         colorscale=[[i / 8, c] for i, c in enumerate(BLUES)], xaxis="x6", yaxis="y6", hoverinfo="skip",
                         colorbar=dict(x=fx(1834), xanchor="left", y=fy(1043.5), yanchor="bottom", len=371 / H, lenmode="fraction",
                                       thickness=19, thicknessmode="pixels", xpad=0, ypad=0, outlinewidth=0,
                                       tickvals=[0, 15, 30, 45, 60], ticks="outside", ticklen=11, tickwidth=2, tickcolor="black",
                                       tickfont=tfont(27))))
layout["xaxis6"] = dict(domain=[fx(1145), fx(1794)], range=[0, 200], anchor="free", position=fy(1048),
                        tickvals=AGE_BIN_TICKS, showline=True, linecolor="black", linewidth=2.5,
                        ticks="outside", ticklen=10, tickwidth=2, tickcolor="black", tickfont=tfont(27),
                        showgrid=False, zeroline=False, ticklabelstandoff=-3)
layout["yaxis6"] = dict(domain=[fy(1043.5), fy(672.5)], range=[-0.5, 39.5], anchor="free", position=fx(1140),
                        tickvals=AGE_ROW_TICKS, ticktext=AGE_ROW_LABELS, ticks="outside", ticklen=11, tickwidth=2, tickcolor="black",
                        tickfont=tfont(27), showgrid=False, zeroline=False, showline=False, ticklabelstandoff=6)
line(1140, 678, 1140, 1039)


# Panels E, F, G
def scatter_panel(n, tx, ty, vx, vy, tfit, vfit, x0, x1, y0, y1):
    s = str(n)
    xa, ya = "x" + s, "y" + s
    fig.add_trace(go.Scatter(x=[0, 100], y=[0, 100], mode="lines", line=dict(color="black", width=1.2, dash="dot"),
                             xaxis=xa, yaxis=ya, showlegend=False, hoverinfo="skip"))
    fig.add_trace(go.Scatter(x=tx, y=ty, mode="markers", marker=dict(color="#0000f5", size=9.5), xaxis=xa, yaxis=ya,
                             showlegend=False, hoverinfo="skip"))
    fig.add_trace(go.Scatter(x=vx, y=vy, mode="markers", marker=dict(color="#f50000", size=9.5), xaxis=xa, yaxis=ya,
                             showlegend=False, hoverinfo="skip"))
    fig.add_trace(go.Scatter(x=tfit[0], y=tfit[1], mode="lines", line=dict(color="#0000f5", width=1.3), xaxis=xa, yaxis=ya,
                             showlegend=False, hoverinfo="skip"))
    fig.add_trace(go.Scatter(x=vfit[0], y=vfit[1], mode="lines", line=dict(color="#f50000", width=1.3), xaxis=xa, yaxis=ya,
                             showlegend=False, hoverinfo="skip"))
    common = dict(range=[0, 100], tickvals=SCATTER_TICKS, showline=True, linecolor="black", linewidth=4, ticks="outside",
                  ticklen=8, tickwidth=3, tickcolor="black", tickfont=tfont(27), showgrid=False, zeroline=False)
    layout["xaxis" + s] = dict(domain=[fx(x0), fx(x1)], anchor=ya, ticklabelstandoff=-3, **common)
    layout["yaxis" + s] = dict(domain=[fy(y1), fy(y0)], anchor=xa, ticklabelstandoff=7, **common)
    line(x0, y0, x1, y0, 2.5)
    line(x1, y0, x1, y1, 2.5)


scatter_panel(7, E_TRAIN_X, E_TRAIN_Y, E_VALID_X, E_VALID_Y, E_TRAIN_FIT, E_VALID_FIT, 104.6, 512.5, 1274, 1678)
scatter_panel(8, F_TRAIN_X, F_TRAIN_Y, F_VALID_X, F_VALID_Y, F_TRAIN_FIT, F_VALID_FIT, 737, 1145, 1276.4, 1680)
scatter_panel(9, G_TRAIN_X, G_TRAIN_Y, G_VALID_X, G_VALID_Y, G_TRAIN_FIT, G_VALID_FIT, 1362, 1769, 1276.4, 1680)

# Text: panel letters
text(20, 27, "A", size=46)
for s, x, y in [("B", 22, 601), ("C", 1335, 36), ("D", 1047, 583), ("E", 21, 1209), ("F", 650, 1209), ("G", 1279, 1209)]:
    text(x, y, s, size=50)

# Panels A and B
text(507, 43, "BBA data by Miseq")
line(101, 65.5, 921, 65.5)
text(270, 87, "Young")
text(747, 87, "Old")
text(18.5, 272, "Frequency", angle=-90)
text(498, 272, "Frequency", angle=-90)
text(269, 530, "Neighboring CpG sites")
text(737, 530, "Neighboring CpG sites")
text(506, 622, "Random simulation")
line(101, 638, 920, 638)
text(270, 660, "Young")
text(747, 660, "Old")
text(22, 845, "Frequency", angle=-90)
text(507, 843, "Frequency", angle=-90)
text(266, 1103, "Neighboring CpG sites")
text(737, 1103, "Neighboring CpG sites")
shapes.append(dict(type="rect", xref="paper", yref="paper", x0=fx(960), x1=fx(998), y0=fy(128), y1=fy(105), fillcolor=BLUE_M, line=dict(width=0)))
shapes.append(dict(type="rect", xref="paper", yref="paper", x0=fx(960), x1=fx(998), y0=fy(180), y1=fy(158), fillcolor=RED_M, line=dict(width=0)))
text(1008, 116, "Non-methylated", size=24.6, anchor="left")
text(1008, 168, "Methylated", size=24.6, anchor="left")

# Panel C
text(1617, 39, "Correlation of individual CpGs")
text(1617, 73, "among different reads")
text(1343, 279, "CpG within <i>ELOVL2</i>", angle=-90)
text(1576, 545, "CpG within <i>ELOVL2</i>")
text(1932, 294, "Correlation of DNAm", size=27, angle=-90)

# Panel D
text(1479, 631, "Single read predictions <i>ELOVL2</i>")
text(1047, 855, "Chronological age (years)", angle=-90)
text(1488, 1124, "Predicted age for patterns (years)")
text(1930, 873, "Relative read count", angle=-90)

# Panels E, F, G
for title, gene, tx, gx, ty, gy, ylx, yly, xlx, xly in [
    ("Mean single read predictions", "ELOVL2", 313, 314, 1222, 1255, 16, 1475, 308, 1746),
    ("Mean single read predictions", "PDE4C", 946, 947, 1224, 1257, 649, 1476, 941, 1748),
    ("Mean single read predictions", "FHL2", 1565, 1570, 1223, 1255, 1272, 1476, 1565, 1749),
]:
    text(tx, ty, title)
    text(gx, gy, "<i>" + gene + "</i>")
    text(ylx, yly, "Predicted age (years)", angle=-90)
    text(xlx, xly, "Chronological age (years)")

for s, c, x, y in [("R² = 0.90", "#0000f5", 112, 1311), ("R² = 0.73", "#f50000", 112, 1347),
                   ("R² = 0.89", "#0000f5", 750, 1311.5), ("R² = 0.75", "#f50000", 754, 1348),
                   ("R² = 0.79", "#0000f5", 1373.5, 1307), ("R² = 0.40", "#f50000", 1374, 1345),
                   ("Training", "#0000f5", 1802, 1292), ("Validation", "#f50000", 1802, 1344)]:
    text(x, y, s, color=c, anchor="left")

fig.update_layout(width=W, height=H, margin=dict(l=0, r=0, t=0, b=0, pad=0, autoexpand=False), paper_bgcolor="white", plot_bgcolor="rgba(0,0,0,0)",
                  showlegend=False, annotations=annots, shapes=shapes, font=dict(family=FONT, color="black"), **layout)
fig.write_html("out.html", config={"displayModeBar": False},
               post_script="document.body.style.margin='0';document.body.style.padding='0';")
